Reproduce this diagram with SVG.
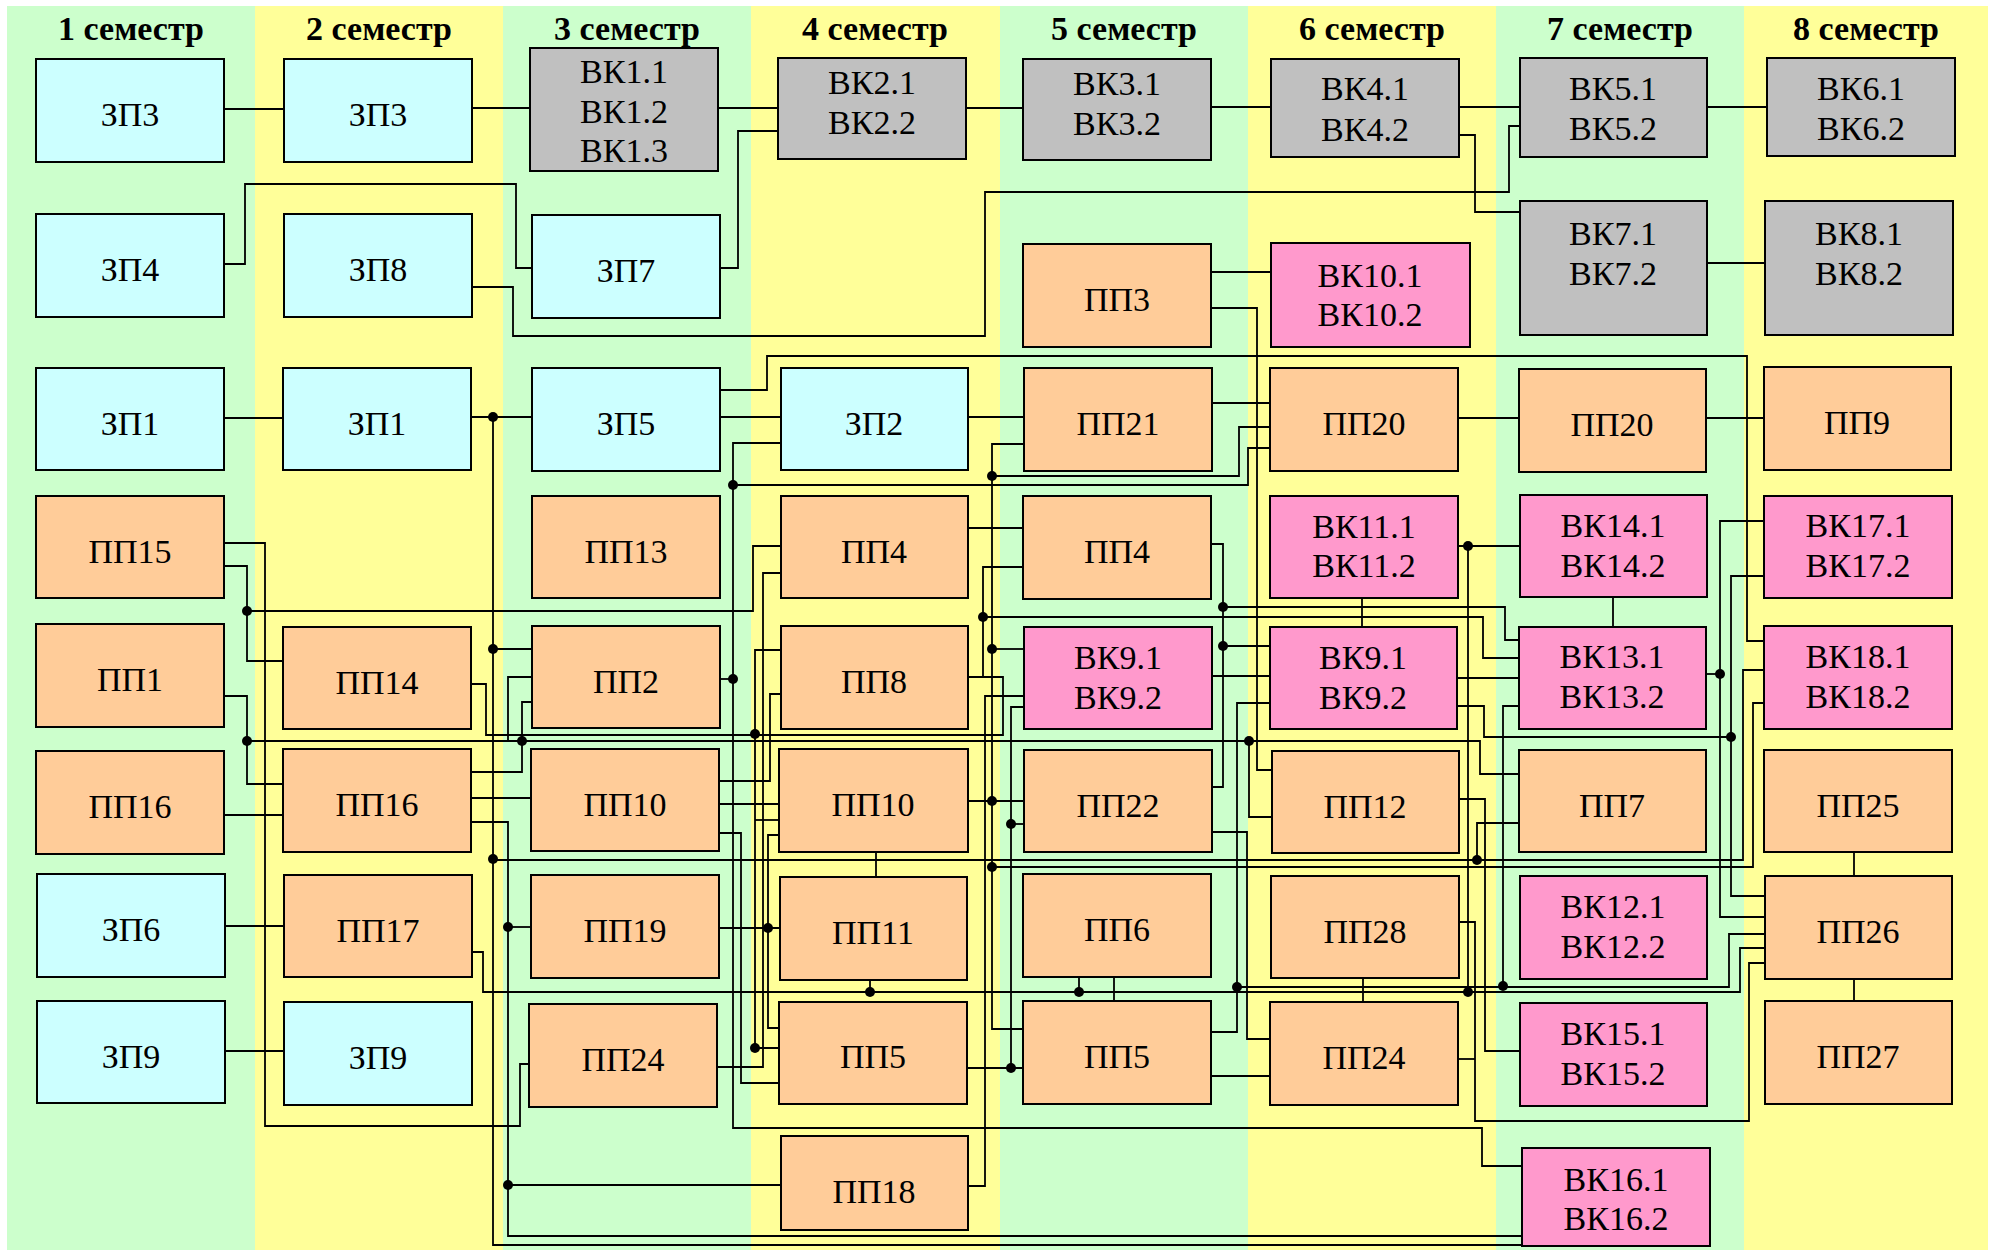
<svg xmlns="http://www.w3.org/2000/svg" width="1993" height="1250" viewBox="0 0 1993 1250">
<style>
.bg{stroke:none}
.n rect{stroke:#000;stroke-width:2}
.zp rect{fill:#CCFFFF}
.pp rect{fill:#FFCC99}
.vg rect{fill:#C0C0C0}
.vp rect{fill:#FF99CC}
.n text{font-family:"Liberation Serif","Times New Roman",serif;font-size:34px;text-anchor:middle;fill:#000}
.h{font-family:"Liberation Serif","Times New Roman",serif;font-size:34px;font-weight:bold;text-anchor:middle;fill:#000}
#connectors path{fill:none;stroke:#000;stroke-width:1.8}
#connectors circle{fill:#000}
</style>
<rect width="1993" height="1250" fill="#fff"/>
<g id="background">
<rect class="bg" x="7" y="6" width="248" height="1244" fill="#CCFFCC"/>
<rect class="bg" x="255" y="6" width="248" height="1244" fill="#FFFF99"/>
<rect class="bg" x="503" y="6" width="248" height="1244" fill="#CCFFCC"/>
<rect class="bg" x="751" y="6" width="249" height="1244" fill="#FFFF99"/>
<rect class="bg" x="1000" y="6" width="248" height="1244" fill="#CCFFCC"/>
<rect class="bg" x="1248" y="6" width="248" height="1244" fill="#FFFF99"/>
<rect class="bg" x="1496" y="6" width="248" height="1244" fill="#CCFFCC"/>
<rect class="bg" x="1744" y="6" width="244" height="1244" fill="#FFFF99"/>
<text class="h" x="131" y="40">1 семестр</text>
<text class="h" x="379" y="40">2 семестр</text>
<text class="h" x="627" y="40">3 семестр</text>
<text class="h" x="875" y="40">4 семестр</text>
<text class="h" x="1124" y="40">5 семестр</text>
<text class="h" x="1372" y="40">6 семестр</text>
<text class="h" x="1620" y="40">7 семестр</text>
<text class="h" x="1866" y="40">8 семестр</text>
</g>
<g id="connectors">
<path d="M224,109 H284"/>
<path d="M472,108 H530"/>
<path d="M718,108 H779"/>
<path d="M720,268 H738 V131 H779"/>
<path d="M967,108 H1023"/>
<path d="M1211,107 H1271"/>
<path d="M1459,107 H1520"/>
<path d="M1459,135 H1475 V212 H1520"/>
<path d="M1707,107 H1767"/>
<path d="M1707,263 H1765"/>
<path d="M224,264 H245 V184 H516 V268 H532"/>
<path d="M472,287 H513 V336 H985 V192 H1509 V126 H1520"/>
<path d="M1211,272 H1271"/>
<path d="M1211,308 H1257 V770 H1272"/>
<path d="M720,390 H767 V356 H1747 V641 H1764"/>
<path d="M224,418 H283"/>
<path d="M720,417 H781"/>
<path d="M968,417 H1024"/>
<path d="M1212,403 H1270"/>
<path d="M1458,418 H1519"/>
<path d="M1706,418 H1764"/>
<path d="M471,417 H532"/>
<path d="M493,417 V1245 H1522"/>
<path d="M493,649 H532"/>
<path d="M493,860 H1743 V670 H1764"/>
<path d="M1477,860 V823 H1519"/>
<path d="M781,443 H733 V1128 H1482 V1166 H1522"/>
<path d="M733,485 H1248 V448 H1270"/>
<path d="M720,679 H733"/>
<path d="M224,543 H265 V1126 H520 V1064 H529"/>
<path d="M224,566 H247 V661 H283"/>
<path d="M247,611 H753 V546 H781"/>
<path d="M224,696 H247 V784 H283"/>
<path d="M247,741 H1480 V774 H1519"/>
<path d="M1249,741 V817 H1272"/>
<path d="M224,815 H283"/>
<path d="M471,684 H486 V735 H1003 V677 H968"/>
<path d="M471,772 H522 V702 H532"/>
<path d="M532,677 H508 V741"/>
<path d="M471,798 H531"/>
<path d="M471,822 H508 V1236 H1522"/>
<path d="M508,927 H531"/>
<path d="M508,1185 H781"/>
<path d="M471,952 H483 V992 H1740 V948 H1765"/>
<path d="M870,980 V992"/>
<path d="M1079,977 V992"/>
<path d="M876,852 V877"/>
<path d="M225,926 H284"/>
<path d="M225,1051 H284"/>
<path d="M719,928 H780"/>
<path d="M779,835 H768 V1028 H779"/>
<path d="M781,650 H755 V1048 H779"/>
<path d="M755,820 H779"/>
<path d="M717,1067 H763 V573 H781"/>
<path d="M719,781 H770 V694 H781"/>
<path d="M719,833 H741 V1083 H779"/>
<path d="M719,804 H779"/>
<path d="M968,528 H1023"/>
<path d="M968,677 H983 V567 H1023"/>
<path d="M983,617 H1483 V658 H1519"/>
<path d="M1024,444 H992 V1029 H1023"/>
<path d="M992,476 H1239 V427 H1270"/>
<path d="M992,649 H1024"/>
<path d="M968,801 H1024"/>
<path d="M992,867 H1753 V703 H1764"/>
<path d="M968,1186 H985 V696 H1024"/>
<path d="M1024,707 H1011 V1068"/>
<path d="M967,1068 H1023"/>
<path d="M1011,824 H1024"/>
<path d="M1211,544 H1223 V787 H1212"/>
<path d="M1223,607 H1505 V640 H1519"/>
<path d="M1223,646 H1270"/>
<path d="M1212,676 H1270"/>
<path d="M1457,678 H1519"/>
<path d="M1457,706 H1484 V737 H1731"/>
<path d="M1362,598 V627"/>
<path d="M1458,546 H1520"/>
<path d="M1468,546 V992"/>
<path d="M1613,597 V627"/>
<path d="M1706,674 H1720"/>
<path d="M1764,521 H1720 V917 H1765"/>
<path d="M1764,576 H1731 V896 H1765"/>
<path d="M1519,706 H1503 V986"/>
<path d="M1211,1032 H1237 V703 H1270"/>
<path d="M1237,987 H1729 V934 H1765"/>
<path d="M1212,832 H1247 V1039 H1270"/>
<path d="M1114,977 V1001"/>
<path d="M1211,1076 H1270"/>
<path d="M1363,978 V1002"/>
<path d="M1459,922 H1475 V1121 H1749 V963 H1765"/>
<path d="M1458,1059 H1475"/>
<path d="M1459,799 H1485 V1051 H1520"/>
<path d="M1854,852 V876"/>
<path d="M1854,979 V1001"/>
<circle cx="493" cy="417" r="5"/>
<circle cx="493" cy="649" r="5"/>
<circle cx="493" cy="859" r="5"/>
<circle cx="1477" cy="860" r="5"/>
<circle cx="733" cy="485" r="5"/>
<circle cx="733" cy="679" r="5"/>
<circle cx="247" cy="611" r="5"/>
<circle cx="247" cy="741" r="5"/>
<circle cx="522" cy="741" r="5"/>
<circle cx="1249" cy="741" r="5"/>
<circle cx="755" cy="734" r="5"/>
<circle cx="508" cy="927" r="5"/>
<circle cx="508" cy="1185" r="5"/>
<circle cx="870" cy="992" r="5"/>
<circle cx="1079" cy="992" r="5"/>
<circle cx="1468" cy="992" r="5"/>
<circle cx="768" cy="928" r="5"/>
<circle cx="755" cy="1048" r="5"/>
<circle cx="983" cy="617" r="5"/>
<circle cx="992" cy="476" r="5"/>
<circle cx="992" cy="649" r="5"/>
<circle cx="992" cy="801" r="5"/>
<circle cx="992" cy="867" r="5"/>
<circle cx="1011" cy="824" r="5"/>
<circle cx="1011" cy="1068" r="5"/>
<circle cx="1223" cy="607" r="5"/>
<circle cx="1223" cy="646" r="5"/>
<circle cx="1468" cy="546" r="5"/>
<circle cx="1720" cy="674" r="5"/>
<circle cx="1731" cy="737" r="5"/>
<circle cx="1503" cy="986" r="5"/>
<circle cx="1237" cy="987" r="5"/>
</g>
<g id="z3a" class="n zp"><rect x="36" y="59" width="188" height="103"/><text x="130" y="126">ЗП3</text></g>
<g id="z4" class="n zp"><rect x="36" y="214" width="188" height="103"/><text x="130" y="281">ЗП4</text></g>
<g id="z1a" class="n zp"><rect x="36" y="368" width="188" height="102"/><text x="130" y="435">ЗП1</text></g>
<g id="pp15" class="n pp"><rect x="36" y="496" width="188" height="102"/><text x="130" y="563">ПП15</text></g>
<g id="pp1" class="n pp"><rect x="36" y="624" width="188" height="103"/><text x="130" y="691">ПП1</text></g>
<g id="pp16a" class="n pp"><rect x="36" y="751" width="188" height="103"/><text x="130" y="818">ПП16</text></g>
<g id="z6" class="n zp"><rect x="37" y="874" width="188" height="103"/><text x="131" y="941">ЗП6</text></g>
<g id="z9a" class="n zp"><rect x="37" y="1001" width="188" height="102"/><text x="131" y="1068">ЗП9</text></g>
<g id="z3b" class="n zp"><rect x="284" y="59" width="188" height="103"/><text x="378" y="126">ЗП3</text></g>
<g id="z8" class="n zp"><rect x="284" y="214" width="188" height="103"/><text x="378" y="281">ЗП8</text></g>
<g id="z1b" class="n zp"><rect x="283" y="368" width="188" height="102"/><text x="377" y="435">ЗП1</text></g>
<g id="pp14" class="n pp"><rect x="283" y="627" width="188" height="102"/><text x="377" y="694">ПП14</text></g>
<g id="pp16b" class="n pp"><rect x="283" y="749" width="188" height="103"/><text x="377" y="816">ПП16</text></g>
<g id="pp17" class="n pp"><rect x="284" y="875" width="188" height="102"/><text x="378" y="942">ПП17</text></g>
<g id="z9b" class="n zp"><rect x="284" y="1002" width="188" height="103"/><text x="378" y="1069">ЗП9</text></g>
<g id="vk1" class="n vg"><rect x="530" y="48" width="188" height="123"/><text x="624" y="83">ВК1.1</text><text x="624" y="123">ВК1.2</text><text x="624" y="162">ВК1.3</text></g>
<g id="z7" class="n zp"><rect x="532" y="215" width="188" height="103"/><text x="626" y="282">ЗП7</text></g>
<g id="z5" class="n zp"><rect x="532" y="368" width="188" height="103"/><text x="626" y="435">ЗП5</text></g>
<g id="pp13" class="n pp"><rect x="532" y="496" width="188" height="102"/><text x="626" y="563">ПП13</text></g>
<g id="pp2" class="n pp"><rect x="532" y="626" width="188" height="102"/><text x="626" y="693">ПП2</text></g>
<g id="pp10a" class="n pp"><rect x="531" y="749" width="188" height="102"/><text x="625" y="816">ПП10</text></g>
<g id="pp19" class="n pp"><rect x="531" y="875" width="188" height="103"/><text x="625" y="942">ПП19</text></g>
<g id="pp24a" class="n pp"><rect x="529" y="1004" width="188" height="103"/><text x="623" y="1071">ПП24</text></g>
<g id="vk2" class="n vg"><rect x="778" y="58" width="188" height="101"/><text x="872" y="94">ВК2.1</text><text x="872" y="134">ВК2.2</text></g>
<g id="z2" class="n zp"><rect x="781" y="368" width="187" height="102"/><text x="874" y="435">ЗП2</text></g>
<g id="pp4a" class="n pp"><rect x="781" y="496" width="187" height="102"/><text x="874" y="563">ПП4</text></g>
<g id="pp8" class="n pp"><rect x="781" y="626" width="187" height="103"/><text x="874" y="693">ПП8</text></g>
<g id="pp10b" class="n pp"><rect x="779" y="749" width="189" height="103"/><text x="873" y="816">ПП10</text></g>
<g id="pp11" class="n pp"><rect x="780" y="877" width="187" height="103"/><text x="873" y="944">ПП11</text></g>
<g id="pp5a" class="n pp"><rect x="779" y="1002" width="188" height="102"/><text x="873" y="1068">ПП5</text></g>
<g id="pp18" class="n pp"><rect x="781" y="1136" width="187" height="94"/><text x="874" y="1203">ПП18</text></g>
<g id="vk3" class="n vg"><rect x="1023" y="59" width="188" height="101"/><text x="1117" y="95">ВК3.1</text><text x="1117" y="135">ВК3.2</text></g>
<g id="pp3" class="n pp"><rect x="1023" y="244" width="188" height="103"/><text x="1117" y="311">ПП3</text></g>
<g id="pp21" class="n pp"><rect x="1024" y="368" width="188" height="103"/><text x="1118" y="435">ПП21</text></g>
<g id="pp4b" class="n pp"><rect x="1023" y="496" width="188" height="103"/><text x="1117" y="563">ПП4</text></g>
<g id="vk9a" class="n vp"><rect x="1024" y="627" width="188" height="102"/><text x="1118" y="669">ВК9.1</text><text x="1118" y="709">ВК9.2</text></g>
<g id="pp22" class="n pp"><rect x="1024" y="750" width="188" height="102"/><text x="1118" y="817">ПП22</text></g>
<g id="pp6" class="n pp"><rect x="1023" y="874" width="188" height="103"/><text x="1117" y="941">ПП6</text></g>
<g id="pp5b" class="n pp"><rect x="1023" y="1001" width="188" height="103"/><text x="1117" y="1068">ПП5</text></g>
<g id="vk4" class="n vg"><rect x="1271" y="59" width="188" height="98"/><text x="1365" y="100">ВК4.1</text><text x="1365" y="141">ВК4.2</text></g>
<g id="vk10" class="n vp"><rect x="1271" y="243" width="199" height="104"/><text x="1370" y="287">ВК10.1</text><text x="1370" y="326">ВК10.2</text></g>
<g id="pp20a" class="n pp"><rect x="1270" y="368" width="188" height="103"/><text x="1364" y="435">ПП20</text></g>
<g id="vk11" class="n vp"><rect x="1270" y="496" width="188" height="102"/><text x="1364" y="538">ВК11.1</text><text x="1364" y="577">ВК11.2</text></g>
<g id="vk9b" class="n vp"><rect x="1270" y="627" width="187" height="102"/><text x="1363" y="669">ВК9.1</text><text x="1363" y="709">ВК9.2</text></g>
<g id="pp12" class="n pp"><rect x="1272" y="751" width="187" height="102"/><text x="1365" y="818">ПП12</text></g>
<g id="pp28" class="n pp"><rect x="1271" y="876" width="188" height="102"/><text x="1365" y="943">ПП28</text></g>
<g id="pp24b" class="n pp"><rect x="1270" y="1002" width="188" height="103"/><text x="1364" y="1069">ПП24</text></g>
<g id="vk5" class="n vg"><rect x="1520" y="58" width="187" height="99"/><text x="1613" y="100">ВК5.1</text><text x="1613" y="140">ВК5.2</text></g>
<g id="vk7" class="n vg"><rect x="1520" y="201" width="187" height="134"/><text x="1613" y="245">ВК7.1</text><text x="1613" y="285">ВК7.2</text></g>
<g id="pp20b" class="n pp"><rect x="1519" y="369" width="187" height="103"/><text x="1612" y="436">ПП20</text></g>
<g id="vk14" class="n vp"><rect x="1520" y="495" width="187" height="102"/><text x="1613" y="537">ВК14.1</text><text x="1613" y="577">ВК14.2</text></g>
<g id="vk13" class="n vp"><rect x="1519" y="627" width="187" height="102"/><text x="1612" y="668">ВК13.1</text><text x="1612" y="708">ВК13.2</text></g>
<g id="pp7" class="n pp"><rect x="1519" y="750" width="187" height="102"/><text x="1612" y="817">ПП7</text></g>
<g id="vk12" class="n vp"><rect x="1520" y="876" width="187" height="103"/><text x="1613" y="918">ВК12.1</text><text x="1613" y="958">ВК12.2</text></g>
<g id="vk15" class="n vp"><rect x="1520" y="1003" width="187" height="103"/><text x="1613" y="1045">ВК15.1</text><text x="1613" y="1085">ВК15.2</text></g>
<g id="vk16" class="n vp"><rect x="1522" y="1148" width="188" height="98"/><text x="1616" y="1191">ВК16.1</text><text x="1616" y="1230">ВК16.2</text></g>
<g id="vk6" class="n vg"><rect x="1767" y="58" width="188" height="98"/><text x="1861" y="100">ВК6.1</text><text x="1861" y="140">ВК6.2</text></g>
<g id="vk8" class="n vg"><rect x="1765" y="201" width="188" height="134"/><text x="1859" y="245">ВК8.1</text><text x="1859" y="285">ВК8.2</text></g>
<g id="pp9" class="n pp"><rect x="1764" y="367" width="187" height="103"/><text x="1857" y="434">ПП9</text></g>
<g id="vk17" class="n vp"><rect x="1764" y="496" width="188" height="102"/><text x="1858" y="537">ВК17.1</text><text x="1858" y="577">ВК17.2</text></g>
<g id="vk18" class="n vp"><rect x="1764" y="626" width="188" height="103"/><text x="1858" y="668">ВК18.1</text><text x="1858" y="708">ВК18.2</text></g>
<g id="pp25" class="n pp"><rect x="1764" y="750" width="188" height="102"/><text x="1858" y="817">ПП25</text></g>
<g id="pp26" class="n pp"><rect x="1765" y="876" width="187" height="103"/><text x="1858" y="943">ПП26</text></g>
<g id="pp27" class="n pp"><rect x="1765" y="1001" width="187" height="103"/><text x="1858" y="1068">ПП27</text></g>
</svg>
